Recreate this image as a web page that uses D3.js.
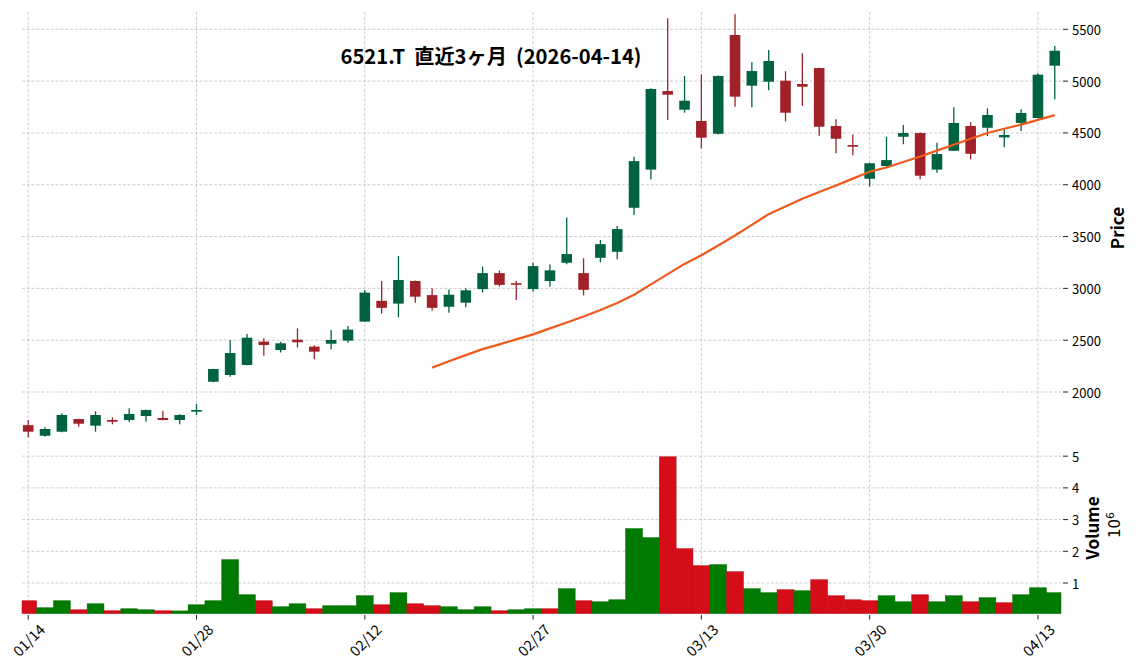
<!DOCTYPE html>
<html><head><meta charset="utf-8">
<script src="https://cdn.jsdelivr.net/npm/d3@7"></script>
<style>
body{margin:0;background:#fff}
svg{display:block}
text{font-family:"Noto Sans CJK JP","Noto Sans",sans-serif;fill:#000}
</style>
</head><body>
<svg id="c" width="1137" height="670"></svg>
<script>
const dates=["01/14","01/15","01/16","01/19","01/20","01/21","01/22","01/23","01/26","01/27",
"01/28","01/29","01/30","02/02","02/03","02/04","02/05","02/06","02/09","02/10",
"02/12","02/13","02/16","02/17","02/18","02/19","02/20","02/24","02/25","02/26",
"02/27","03/02","03/03","03/04","03/05","03/06","03/09","03/10","03/11","03/12",
"03/13","03/16","03/17","03/18","03/19","03/23","03/24","03/25","03/26","03/27",
"03/30","03/31","04/01","04/02","04/03","04/06","04/07","04/08","04/09","04/10",
"04/13","04/14"];
const opens=[1680,1578,1617,1739,1675,1730,1730,1768,1749,1730,
1810,2099,2164,2261,2486,2405,2505,2438,2466,2496,
2679,2880,2853,3071,2935,2823,2862,2993,3147,3050,
2993,3071,3247,3147,3295,3353,3778,4146,4904,4724,
4615,4492,5445,4956,4994,5004,4972,5126,4567,4383,
4058,4180,4463,4499,4146,4328,4567,4550,4457,4596,
4644,5149];
const highs=[1730,1659,1794,1742,1814,1756,1843,1830,1819,1785,
1884,2225,2502,2560,2518,2486,2614,2450,2598,2637,
2985,3071,3313,3075,3000,2990,3000,3211,3172,3071,
3247,3230,3685,3290,3466,3601,4270,4930,5606,5049,
5066,5055,5645,5181,5300,5095,5268,5130,4631,4486,
4212,4463,4576,4505,4405,4747,4603,4737,4544,4728,
5075,5339];
const lows=[1561,1568,1612,1665,1617,1688,1710,1713,1725,1688,
1778,2095,2148,2258,2350,2380,2431,2316,2412,2476,
2675,2757,2721,2862,2784,2764,2817,2961,3018,2887,
2970,3015,3233,2932,3251,3280,3708,4052,4624,4695,
4351,4485,4753,4747,4911,4612,4763,4473,4303,4284,
3984,4174,4390,4052,4116,4325,4245,4470,4361,4518,
4640,4824];
const closes=[1617,1643,1778,1694,1778,1713,1788,1826,1730,1778,
1826,2222,2376,2524,2454,2470,2480,2389,2502,2602,
2959,2812,3081,2920,2812,2939,2981,3147,3034,3042,
3215,3174,3331,2986,3427,3572,4228,4924,4869,4811,
4454,5049,4850,5097,5194,4695,4946,4560,4444,4367,
4207,4238,4499,4087,4296,4596,4299,4673,4480,4692,
5062,5293];
const volumes=[0.441,0.220,0.441,0.156,0.346,0.125,0.188,0.156,0.125,0.120,
0.314,0.441,1.736,0.630,0.441,0.251,0.346,0.188,0.283,0.283,
0.599,0.314,0.694,0.346,0.283,0.251,0.156,0.251,0.125,0.156,
0.188,0.188,0.820,0.441,0.409,0.472,2.716,2.432,4.980,2.084,
1.547,1.579,1.357,0.820,0.694,0.788,0.757,1.104,0.599,0.472,
0.441,0.599,0.409,0.630,0.409,0.599,0.409,0.536,0.378,0.630,
0.851,0.694];
const ma25=[null,null,null,null,null,null,null,null,null,null,
null,null,null,null,null,null,null,null,null,null,
null,null,null,null,2235,2297,2356,2414,2460,2508,
2556,2614,2671,2728,2792,2859,2938,3038,3137,3236,
3319,3414,3510,3613,3716,3791,3864,3930,3992,4059,
4126,4166,4219,4272,4329,4386,4443,4499,4540,4580,
4626,4672];
const priceTicks=[2000,2500,3000,3500,4000,4500,5000,5500];
const volTicks=[1,2,3,4,5];
const xTickIdx=[0,10,20,30,40,50,60];
const titleText="6521.T  直近3ヶ月  (2026-04-14)";

const UP="#006340",DOWN="#A02128",VUP="#007a00",VDOWN="#d50d18",MAC="#ef5a1c",GRID="#c0c0c0";
const svg=d3.select("#c");
const L=22,R=1061,PT=12,PB=438,VT=441;
const n=dates.length;
const x=d3.scaleLinear().domain([-0.37,n-1+0.37]).range([L,R]);
const step=x(1)-x(0);
const y=d3.scaleLinear().domain([2000,5500]).range([392,29.3]);
const vmin=0.3*d3.min(volumes),vmax=1.1*d3.max(volumes);
const VB=613.6;
const yv=d3.scaleLinear().domain([vmin,vmax]).range([VB,VT]);

// grids
const g=svg.append("g").attr("stroke",GRID).attr("stroke-width",0.8).attr("stroke-dasharray","3,1.8").attr("fill","none");
priceTicks.forEach(t=>g.append("line").attr("x1",L).attr("x2",R).attr("y1",y(t)).attr("y2",y(t)));
volTicks.forEach(t=>g.append("line").attr("x1",L).attr("x2",R).attr("y1",yv(t)).attr("y2",yv(t)));
xTickIdx.forEach(i=>{
  g.append("line").attr("x1",x(i)).attr("x2",x(i)).attr("y1",PT).attr("y2",PB);
  g.append("line").attr("x1",x(i)).attr("x2",x(i)).attr("y1",VT).attr("y2",VB);
});

// volume
const idx=d3.range(n);
const vUp=i=>i===0?closes[i]>=opens[i]:closes[i]>=closes[i-1];
svg.append("g").selectAll("rect").data(idx).join("rect")
  .attr("x",i=>Math.max(L,x(i)-step/2)).attr("width",i=>Math.min(R,x(i)+step/2)-Math.max(L,x(i)-step/2))
  .attr("y",i=>yv(volumes[i])).attr("height",i=>VB-yv(volumes[i]))
  .attr("fill",i=>vUp(i)?VUP:VDOWN)
  .attr("stroke",i=>vUp(i)?"#006a00":"#b80a14")
  .attr("stroke-width",0.5);

// candles
const cw=step*0.63;
const cg=svg.append("g");
cg.selectAll("line").data(idx).join("line")
  .attr("x1",i=>x(i)).attr("x2",i=>x(i)).attr("y1",i=>y(highs[i])).attr("y2",i=>y(lows[i]))
  .attr("stroke",i=>closes[i]>=opens[i]?UP:DOWN).attr("stroke-width",1.3);
cg.selectAll("rect").data(idx).join("rect")
  .attr("x",i=>x(i)-cw/2).attr("width",cw)
  .attr("y",i=>y(Math.max(opens[i],closes[i])))
  .attr("height",i=>Math.max(1.6,Math.abs(y(opens[i])-y(closes[i]))))
  .attr("fill",i=>closes[i]>=opens[i]?UP:DOWN);

// moving average
const line=d3.line().defined(i=>ma25[i]!=null).x(i=>x(i)).y(i=>y(ma25[i]));
svg.append("path").datum(idx).attr("d",line).attr("fill","none").attr("stroke",MAC).attr("stroke-width",2.2).attr("stroke-linejoin","round");

// right axes
const ax=svg.append("g");
priceTicks.forEach(t=>{
  ax.append("line").attr("x1",R+2).attr("x2",R+7).attr("y1",y(t)).attr("y2",y(t)).attr("stroke","#222").attr("stroke-width",1);
  ax.append("text").attr("x",R+11).attr("y",y(t)).attr("dominant-baseline","central").attr("font-size",13).text(t);
});
volTicks.forEach(t=>{
  ax.append("line").attr("x1",R+2).attr("x2",R+7).attr("y1",yv(t)).attr("y2",yv(t)).attr("stroke","#222").attr("stroke-width",1);
  ax.append("text").attr("x",R+11).attr("y",yv(t)).attr("dominant-baseline","central").attr("font-size",13).text(t);
});
// x ticks
xTickIdx.forEach(i=>{
  ax.append("line").attr("x1",x(i)).attr("x2",x(i)).attr("y1",615).attr("y2",619.5).attr("stroke","#222").attr("stroke-width",1);
  const t=ax.append("text").attr("font-size",14.5).attr("text-anchor","middle").attr("dominant-baseline","central").text(dates[i]);
  const len=t.node().getComputedTextLength();
  const h=14.5;
  const cy=621+(len+h)/(2*Math.SQRT2);
  t.attr("transform",`translate(${x(i)},${cy}) rotate(-45)`);
});

// labels
svg.append("text").attr("transform","translate(1124,228) rotate(-90)").attr("text-anchor","middle")
  .attr("font-size",17).attr("font-weight","bold").text("Price");
svg.append("text").attr("transform","translate(1099,528) rotate(-90)").attr("text-anchor","middle")
  .attr("font-size",17).attr("font-weight","bold").text("Volume");
const e=svg.append("text").attr("transform","translate(1120,525) rotate(-90)").attr("text-anchor","middle")
  .attr("font-size",15).style("font-family","'DejaVu Sans',sans-serif");
e.append("tspan").text("10");
e.append("tspan").attr("dy",-6).attr("font-size",11).text("6");

// title
svg.append("text").attr("x",491).attr("y",64).attr("text-anchor","middle").attr("font-size",20.2)
  .attr("font-weight","bold").style("white-space","pre").text(titleText);
</script>
</body></html>
